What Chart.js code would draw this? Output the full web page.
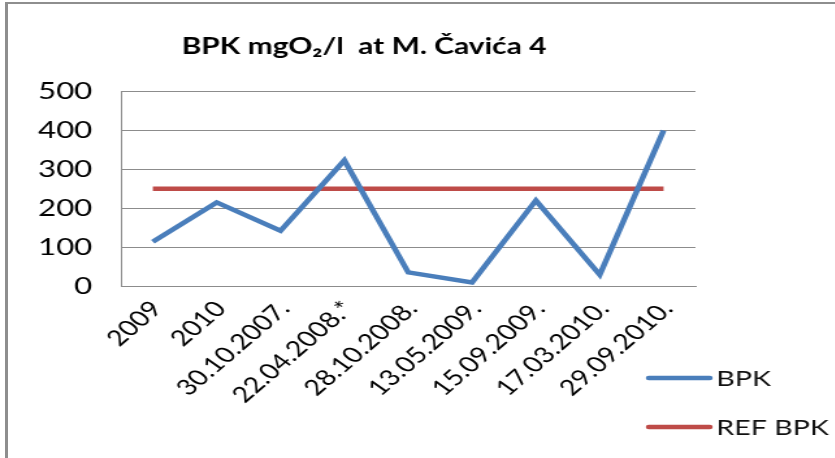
<!DOCTYPE html>
<html>
<head>
<meta charset="utf-8">
<script src="https://cdn.jsdelivr.net/npm/chart.js@4.4.0/dist/chart.umd.min.js"></script>
<style>
  html, body { margin: 0; padding: 0; background: #fff; overflow: hidden; }
  #frame {
    position: absolute; left: 5px; top: 2px; width: 840px; height: 470px;
    border-left: 3px solid #8e8e8e; border-top: 2px solid #8e8e8e;
  }
  /* the reference picture is stretched sideways, so the chart is too */
  #wrap {
    position: absolute; left: 0; top: 0; width: 642px; height: 458px;
    transform: scaleX(1.3); transform-origin: 0 0;
  }
</style>
</head>
<body>
<div id="frame"></div>
<div id="wrap"><canvas id="bpkChart" width="642" height="458"></canvas></div>
<script>
// Podaci
const categories = ['2009', '2010', '30.10.2007.', '22.04.2008.*', '28.10.2008.', '13.05.2009.', '15.09.2009.', '17.03.2010.', '29.09.2010.'];
const bpkValues = [114, 215, 142, 323, 35, 9, 220, 29, 400];
const refBpkValues = [250, 250, 250, 250, 250, 250, 250, 250, 250];
const seriesNames = ['BPK', 'REF BPK'];
const yMin = 0, yMax = 500, yStep = 100;

const FONT = 'Lato, "Liberation Sans", sans-serif';

// legenda dolje desno, kao u Excelu
const sideLegend = {
    id: 'sideLegend',
    afterDraw(chart) {
        const c = chart.ctx;
        const rows = [378, 427];
        c.save();
        chart.data.datasets.forEach((ds, i) => {
            const y = rows[i];
            c.strokeStyle = ds.borderColor;
            c.lineWidth = 4.5;
            c.lineCap = 'round';
            c.beginPath();
            c.moveTo(499, y);
            c.lineTo(546, y);
            c.stroke();
            c.fillStyle = '#111';
            c.font = '22px ' + FONT;
            c.textBaseline = 'middle';
            c.fillText(ds.label, 551, y + 1);
        });
        c.restore();
    }
};

const ctx = document.getElementById('bpkChart').getContext('2d');
new Chart(ctx, {
    type: 'line',
    data: {
        labels: categories,
        datasets: [{
            label: seriesNames[0],
            data: bpkValues,
            borderColor: '#4a7ebb',
            borderWidth: 4.5,
            pointRadius: 0,
            tension: 0
        }, {
            label: seriesNames[1],
            data: refBpkValues,
            borderColor: '#be4b48',
            borderWidth: 4.5,
            pointRadius: 0,
            tension: 0
        }]
    },
    options: {
        responsive: false,
        animation: false,
        layout: { padding: { left: 25, right: 107, top: 0, bottom: 0 } },
        plugins: {
            legend: { display: false },
            tooltip: { enabled: false },
            title: {
                display: true,
                text: 'BPK mgO₂/l  at M. Čavića 4',
                color: '#000',
                font: { family: FONT, size: 23, weight: 'bold' },
                padding: { top: 33, bottom: 31 }
            }
        },
        scales: {
            x: {
                offset: true,
                grid: { display: false, drawTicks: false },
                border: { display: true, color: '#8c8c8c', width: 1 },
                ticks: {
                    autoSkip: false,
                    minRotation: 48,
                    maxRotation: 48,
                    padding: 10,
                    labelOffset: 3,
                    color: '#000',
                    font: { family: FONT, size: 22 }
                },
                afterFit(scale) { scale.height = 172; }
            },
            y: {
                min: yMin,
                max: yMax,
                grid: { color: '#8c8c8c', drawTicks: false },
                border: { display: true, color: '#8c8c8c', width: 1 },
                ticks: {
                    stepSize: yStep,
                    padding: 22,
                    color: '#000',
                    font: { family: FONT, size: 24 }
                },
                afterFit(scale) { scale.width = 68; }
            }
        }
    },
    plugins: [sideLegend]
});
</script>
</body>
</html>
